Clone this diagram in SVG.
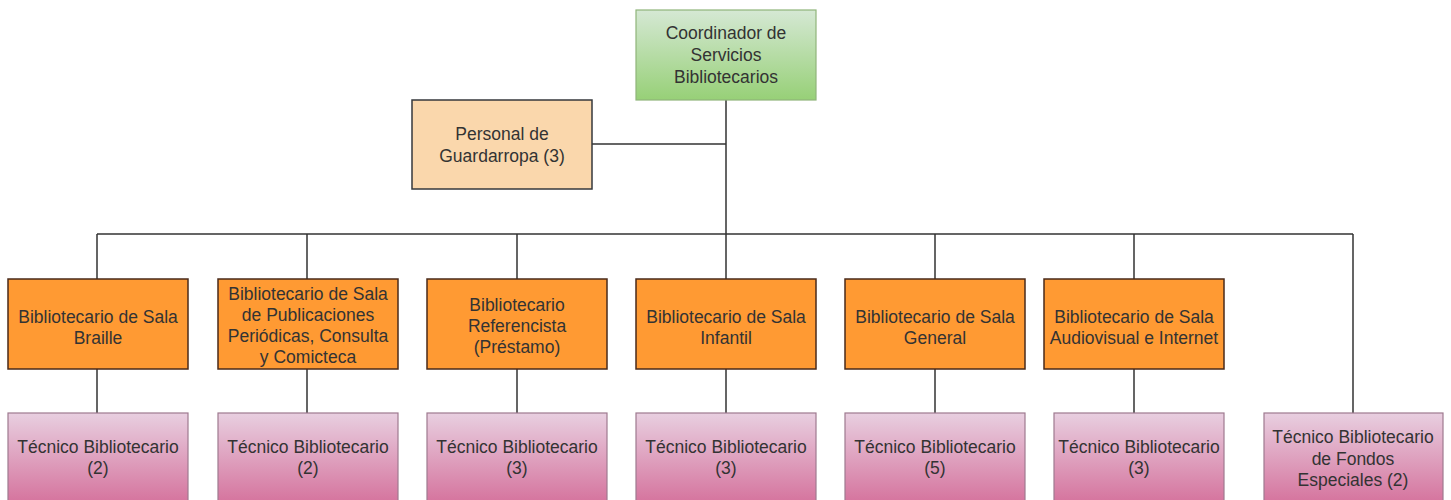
<svg xmlns="http://www.w3.org/2000/svg" width="1451" height="500" viewBox="0 0 1451 500">
<defs>
<linearGradient id="gGreen" x1="0" y1="0" x2="0" y2="1">
<stop offset="0" stop-color="#d5e8d4"/>
<stop offset="1" stop-color="#97d077"/>
</linearGradient>
<linearGradient id="gPink" x1="0" y1="0" x2="0" y2="1">
<stop offset="0" stop-color="#e8cfe0"/>
<stop offset="1" stop-color="#d5739d"/>
</linearGradient>
<style>
text{font-family:"Liberation Sans",Arial,sans-serif;font-size:17.5px;fill:#333333;text-anchor:middle}
.green{fill:url(#gGreen);stroke:#8fb57a;stroke-width:1.2}
.peach{fill:#fad7ac;stroke:#36393d;stroke-width:1.5}
.orange{fill:#ff9a33;stroke:#4a2a1a;stroke-width:1.5}
.pink{fill:url(#gPink);stroke:#9e7a8f;stroke-width:1.2}
.conn{fill:none;stroke:#333333;stroke-width:1.5}
</style>
</defs>
<rect width="1451" height="500" fill="#ffffff"/>
<g id="connectors">
<path class="conn" d="M726 100V234M592 144H726M97 234H1353M97 234V279M307 234V279M517 234V279M726 234V279M935 234V279M1134 234V279M1353 234V413"/>
<path class="conn" d="M97 369V413M307 369V413M517 369V413M726 369V413M935 369V413M1134 369V413"/>
</g>
<g id="n-coord"><rect class="green" x="636" y="10" width="180" height="90"/>
<text x="726" y="39">Coordinador de</text><text x="726" y="61">Servicios</text><text x="726" y="83">Bibliotecarios</text></g>
<g id="n-guard"><rect class="peach" x="412" y="100" width="180" height="89"/>
<text x="502" y="140">Personal de</text><text x="502" y="162">Guardarropa (3)</text></g>
<g id="n-braille"><rect class="orange" x="8" y="279" width="180" height="90"/>
<text x="98" y="323">Bibliotecario de Sala</text><text x="98" y="344">Braille</text></g>
<g id="n-public"><rect class="orange" x="218" y="279" width="180" height="90"/>
<text x="308" y="300">Bibliotecario de Sala</text><text x="308" y="321">de Publicaciones</text><text x="308" y="342">Periódicas, Consulta</text><text x="308" y="363">y Comicteca</text></g>
<g id="n-refer"><rect class="orange" x="427" y="279" width="180" height="90"/>
<text x="517" y="311">Bibliotecario</text><text x="517" y="332">Referencista</text><text x="517" y="353">(Préstamo)</text></g>
<g id="n-infantil"><rect class="orange" x="636" y="279" width="180" height="90"/>
<text x="726" y="323">Bibliotecario de Sala</text><text x="726" y="344">Infantil</text></g>
<g id="n-general"><rect class="orange" x="845" y="279" width="180" height="90"/>
<text x="935" y="323">Bibliotecario de Sala</text><text x="935" y="344">General</text></g>
<g id="n-audio"><rect class="orange" x="1044" y="279" width="180" height="90"/>
<text x="1134" y="323">Bibliotecario de Sala</text><text x="1134" y="344">Audiovisual e Internet</text></g>
<g id="t-braille"><rect class="pink" x="8" y="413" width="180" height="90"/>
<text x="98" y="453">Técnico Bibliotecario</text><text x="98" y="474">(2)</text></g>
<g id="t-public"><rect class="pink" x="218" y="413" width="180" height="90"/>
<text x="308" y="453">Técnico Bibliotecario</text><text x="308" y="474">(2)</text></g>
<g id="t-refer"><rect class="pink" x="427" y="413" width="180" height="90"/>
<text x="517" y="453">Técnico Bibliotecario</text><text x="517" y="474">(3)</text></g>
<g id="t-infantil"><rect class="pink" x="636" y="413" width="180" height="90"/>
<text x="726" y="453">Técnico Bibliotecario</text><text x="726" y="474">(3)</text></g>
<g id="t-general"><rect class="pink" x="845" y="413" width="180" height="90"/>
<text x="935" y="453">Técnico Bibliotecario</text><text x="935" y="474">(5)</text></g>
<g id="t-audio"><rect class="pink" x="1054" y="413" width="170" height="90"/>
<text x="1139" y="453">Técnico Bibliotecario</text><text x="1139" y="474">(3)</text></g>
<g id="t-fondos"><rect class="pink" x="1264" y="413" width="179" height="90"/>
<text x="1353" y="443">Técnico Bibliotecario</text><text x="1353" y="465">de Fondos</text><text x="1353" y="486">Especiales (2)</text></g>
</svg>
